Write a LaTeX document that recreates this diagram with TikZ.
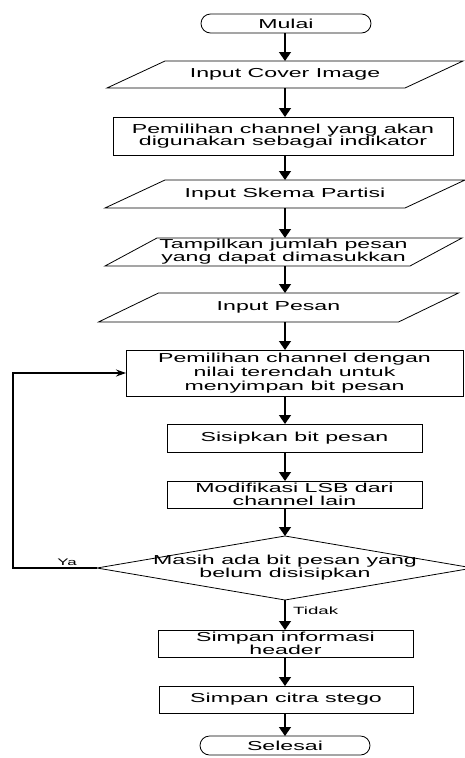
\documentclass[tikz,border=0pt]{standalone}
\usepackage{fontspec}
\setmainfont{Liberation Sans}[FakeStretch=1.78]
\usetikzlibrary{arrows.meta,shapes.geometric}

% outline of an input/output parallelogram around an invisible node
\newcommand\ioframe[2]{%
  \draw[edge line] ([xshift=#2]#1.north west) -- ([xshift=#2]#1.north east)
    -- ([xshift=-#2]#1.south east) -- ([xshift=-#2]#1.south west) -- cycle;}

\tikzset{
  edge line/.style={line width=0.8pt},
  txt/.style={font=\fontsize{13}{13}\selectfont, align=center, inner sep=0pt},
  shapenode/.style={inner sep=0pt, outer sep=0pt},
  procbox/.style={shapenode, draw, line width=0.8pt},
  termbox/.style={shapenode, draw, line width=0.8pt, rounded corners=9.5pt},
  iobox/.style={shapenode},
  decision/.style={shapenode, draw, line width=0.8pt, diamond},
  flow/.style={line width=1.4pt, -{Triangle[length=9pt,width=12pt]}},
  back/.style={line width=1.2pt, -{Stealth[length=10pt,width=7pt]}},
  small/.style={font=\fontsize{9.5}{9.5}\selectfont, inner sep=0pt},
}

\begin{document}
\lineskiplimit=-100pt
\begin{tikzpicture}[x=1pt,y=-1pt]
\useasboundingbox (0,0) rectangle (465,758);

\coordinate (spine) at (285,0);
\coordinate (loopx) at (13,0);

\node[termbox, minimum width=170pt, minimum height=19pt,
      label={[txt]center:Mulai}] (start) at (286,23.5) {};

\node[iobox, minimum width=298pt, minimum height=27pt,
      label={[txt]center:Input Cover Image}] (p1) at (285,74.5) {};
\ioframe{p1}{29pt}

\node[procbox, minimum width=340pt, minimum height=38pt,
      label={[txt, font=\fontsize{13}{12}\selectfont]center:Pemilihan channel yang akan\\digunakan sebagai indikator}] (b2) at (283,136) {};

\node[iobox, minimum width=300pt, minimum height=28pt,
      label={[txt]center:Input Skema Partisi}] (p2) at (285,194) {};
\ioframe{p2}{30pt}

\node[iobox, minimum width=305pt, minimum height=28pt,
      label={[txt]center:Tampilkan jumlah pesan\\yang dapat dimasukkan}] (p3) at (283.5,252) {};
\ioframe{p3}{26pt}

\node[iobox, minimum width=300pt, minimum height=29pt,
      label={[txt]center:Input Pesan}] (p4) at (278.5,307.5) {};
\ioframe{p4}{30pt}

\node[procbox, minimum width=337pt, minimum height=46pt,
      label={[txt, font=\fontsize{13}{14}\selectfont]center:Pemilihan channel dengan\\nilai terendah untuk\\menyimpan bit pesan}] (b3) at (294.5,373) {};

\node[procbox, minimum width=255pt, minimum height=28pt,
      label={[txt]center:Sisipkan bit pesan}] (b4) at (294.5,438) {};

\node[procbox, minimum width=255pt, minimum height=27pt,
      label={[txt]center:Modifikasi LSB dari\\channel lain}] (b5) at (294.5,494.5) {};

\node[decision, minimum width=376pt, minimum height=64pt,
      label={[txt]center:Masih ada bit pesan yang\\belum disisipkan}] (dec) at (285,568) {};

\node[procbox, minimum width=255pt, minimum height=27pt,
      label={[txt]center:Simpan informasi\\header}] (b6) at (285.5,643.5) {};

\node[procbox, minimum width=254pt, minimum height=27pt,
      label={[txt]center:Simpan citra stego}] (b7) at (286,699.5) {};

\node[termbox, minimum width=170pt, minimum height=19pt,
      label={[txt]center:Selesai}] (stop) at (285,745.5) {};

% main flow
\draw[flow] (start.south -| spine) -- (p1.north -| spine);
\draw[flow] (p1.south -| spine) -- (b2.north -| spine);
\draw[flow] (b2.south -| spine) -- (p2.north -| spine);
\draw[flow] (p2.south -| spine) -- (p3.north -| spine);
\draw[flow] (p3.south -| spine) -- (p4.north -| spine);
\draw[flow] (p4.south -| spine) -- (b3.north -| spine);
\draw[flow] (b3.south -| spine) -- (b4.north -| spine);
\draw[flow] (b4.south -| spine) -- (b5.north -| spine);
\draw[flow] (b5.south -| spine) -- (dec.north);
\draw[flow] (dec.south) -- (b6.north -| spine);
\draw[flow] (b6.south -| spine) -- (b7.north -| spine);
\draw[flow] (b7.south -| spine) -- (stop.north -| spine);

% loop back while bits remain
\draw[back] (dec.west) -- (dec.west -| loopx) |- (b3.west);

\node[small] (ya) at (67,562.5) {Ya};
\node[small, font=\fontsize{10.5}{10.5}\selectfont, anchor=west] (tidak) at (293,610.5) {Tidak};
\end{tikzpicture}
\end{document}
